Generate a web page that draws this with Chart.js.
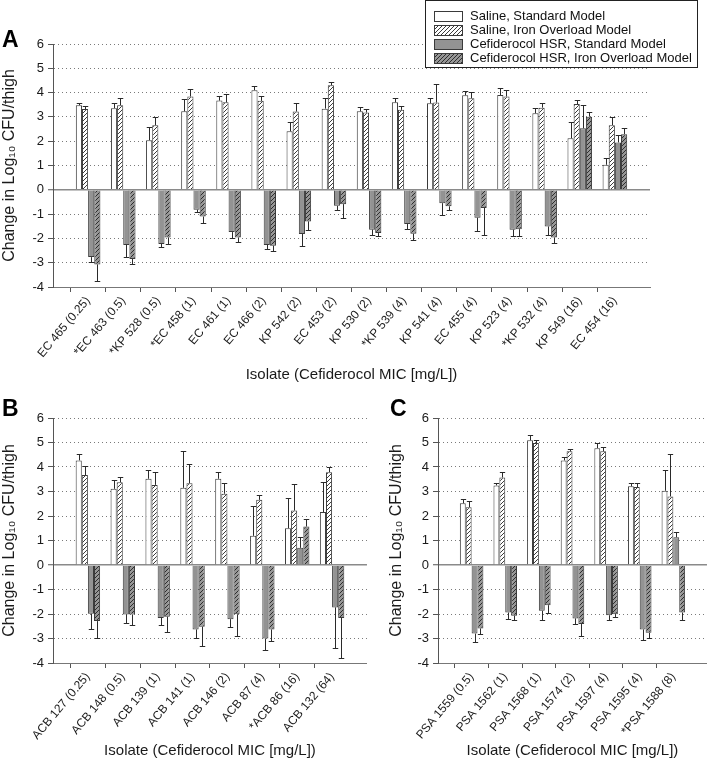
<!DOCTYPE html>
<html><head><meta charset="utf-8">
<script src="https://cdn.jsdelivr.net/npm/chart.js@4.4.1/dist/chart.umd.min.js"></script>
<style>
html,body{margin:0;padding:0;background:#fff;}
#wrap{position:relative;width:720px;height:769px;overflow:hidden;background:#fff;}
canvas{position:absolute;}
</style></head><body>
<div id="wrap">
<canvas id="cA" width="720" height="385" style="left:0;top:0"></canvas>
<canvas id="cB" width="380" height="384" style="left:0;top:385px"></canvas>
<canvas id="cC" width="340" height="384" style="left:380px;top:385px"></canvas>
</div>
<script>
// ---------- DATA ----------
const seriesLabels = ['Saline, Standard Model', 'Saline, Iron Overload Model',
  'Cefiderocol HSR, Standard Model', 'Cefiderocol HSR, Iron Overload Model'];
const yTitle = 'Change in Log\u2081\u2080 CFU/thigh';
const xTitle = 'Isolate (Cefiderocol MIC [mg/L])';

// Panel A
const isolatesA = ['EC 465 (0.25)', '*EC 463 (0.5)', '*KP 528 (0.5)', '*EC 458 (1)', 'EC 461 (1)',
  'EC 466 (2)', 'KP 542 (2)', 'EC 453 (2)', 'KP 530 (2)', '*KP 539 (4)', 'KP 541 (4)',
  'EC 455 (4)', 'KP 523 (4)', '*KP 532 (4)', 'KP 549 (16)', 'EC 454 (16)'];
const salineStdA  = [3.48, 3.36, 2.04, 3.23, 3.67, 4.10, 2.41, 3.34, 3.23, 3.60, 3.56, 3.89, 3.90, 3.15, 2.12, 1.03];
const salineIronA = [3.32, 3.48, 2.66, 3.84, 3.60, 3.66, 3.22, 4.30, 3.18, 3.29, 3.59, 3.77, 3.84, 3.38, 3.53, 2.66];
const cefStdA     = [-2.77, -2.27, -2.23, -0.82, -1.74, -2.27, -1.82, -0.66, -1.64, -1.41, -0.55, -1.15, -1.64, -1.51, 2.53, 1.95];
const cefIronA    = [-3.07, -2.85, -1.96, -1.10, -1.96, -2.30, -1.30, -0.59, -1.78, -1.81, -0.68, -0.75, -1.62, -1.96, 3.01, 2.29];
const salineStdErrA  = [0.11, 0.20, 0.55, 0.52, 0.19, 0.16, 0.38, 0.43, 0.19, 0.17, 0.21, 0.18, 0.28, 0.21, 0.65, 0.27];
const salineIronErrA = [0.12, 0.29, 0.35, 0.30, 0.35, 0.22, 0.34, 0.14, 0.16, 0.16, 0.75, 0.24, 0.28, 0.18, 0.17, 0.33];
const cefStdErrA     = [0.20, 0.51, 0.11, 0.10, 0.26, 0.17, 0.51, 0.19, 0.22, 0.21, 0.48, 0.56, 0.25, 0.37, 0.96, 0.31];
const cefIronErrA    = [0.67, 0.20, 0.25, 0.27, 0.18, 0.21, 0.37, 0.56, 0.11, 0.24, 0.14, 1.10, 0.27, 0.23, 0.21, 0.24];

// Panel B
const isolatesB = ['ACB 127 (0.25)', 'ACB 148 (0.5)', 'ACB 139 (1)', 'ACB 141 (1)', 'ACB 146 (2)',
  'ACB 87 (4)', '*ACB 86 (16)', 'ACB 132 (64)'];
const salineStdB  = [4.27, 3.11, 3.52, 3.15, 3.52, 1.19, 1.50, 2.16];
const salineIronB = [3.67, 3.38, 3.27, 3.34, 2.91, 2.66, 2.22, 3.79];
const cefStdB     = [-1.99, -2.02, -2.16, -2.63, -2.21, -3.00, 0.70, -1.73];
const cefIronB    = [-2.29, -2.02, -2.11, -2.52, -2.01, -2.63, 1.57, -2.16];
const salineStdErrB  = [0.27, 0.34, 0.34, 1.50, 0.27, 1.22, 1.24, 1.21];
const salineIronErrB = [0.38, 0.21, 0.51, 0.77, 0.45, 0.19, 1.08, 0.23];
const cefStdErrB     = [0.64, 0.34, 0.28, 0.34, 0.31, 0.48, 0.43, 1.64];
const cefIronErrB    = [0.68, 0.44, 0.62, 0.77, 0.88, 0.48, 0.30, 1.63];

// Panel C
const isolatesC = ['PSA 1559 (0.5)', 'PSA 1562 (1)', 'PSA 1568 (1)', 'PSA 1574 (2)', 'PSA 1597 (4)',
  'PSA 1595 (4)', '*PSA 1588 (8)'];
const salineStdC  = [2.52, 3.25, 5.09, 4.27, 4.77, 3.21, 3.03];
const salineIronC = [2.36, 3.57, 4.98, 4.64, 4.64, 3.18, 2.80];
const cefStdC     = [-2.80, -1.94, -1.87, -2.18, -2.05, -2.63, 1.13];
const cefIronC    = [-2.59, -2.07, -1.64, -2.41, -2.01, -2.77, -1.94];
const salineStdErrC  = [0.18, 0.09, 0.20, 0.12, 0.21, 0.13, 0.83];
const salineIronErrC = [0.26, 0.22, 0.14, 0.09, 0.18, 0.16, 1.74];
const cefStdErrC     = [0.34, 0.28, 0.38, 0.21, 0.20, 0.44, 0.22];
const cefIronErrC    = [0.21, 0.18, 0.31, 0.48, 0.10, 0.19, 0.31];

const yMin = -4, yMax = 6, yStep = 1;

// ---------- STYLE ----------
const FONT = "'Liberation Sans', Arial, Helvetica, sans-serif";
function hatch(bg, fg) {
  const c = document.createElement('canvas');
  c.width = 4; c.height = 4;
  const g = c.getContext('2d');
  g.fillStyle = bg; g.fillRect(0, 0, 4, 4);
  g.strokeStyle = fg; g.lineWidth = 1;
  g.beginPath();
  g.moveTo(0, 4); g.lineTo(4, 0);
  g.moveTo(-1, 1); g.lineTo(1, -1);
  g.moveTo(3, 5); g.lineTo(5, 3);
  g.stroke();
  return g.createPattern(c, 'repeat');
}
const fills = ['#ffffff', hatch('#ffffff', '#3c3c3c'), '#939393', hatch('#969696', '#2e2e2e')];
const BORDER = '#3a3a3a';

// ---------- PLUGINS ----------
const errorBars = {
  id: 'errorBars',
  afterDatasetsDraw(chart) {
    const ctx = chart.ctx, ys = chart.scales.y;
    ctx.save();
    ctx.strokeStyle = '#2a2a2a'; ctx.lineWidth = 1;
    chart.data.datasets.forEach((ds, d) => {
      const meta = chart.getDatasetMeta(d);
      meta.data.forEach((bar, i) => {
        const v = ds.data[i], e = ds.errors[i];
        if (v == null || e == null) return;
        const end = v >= 0 ? v + e : v - e;
        const x = Math.round(bar.x) + 0.5;
        const y0 = ys.getPixelForValue(v);
        const y1 = Math.round(ys.getPixelForValue(end)) + 0.5;
        const hw = Math.max(2, bar.width * 0.45);
        ctx.beginPath();
        ctx.moveTo(x, y0); ctx.lineTo(x, y1);
        ctx.moveTo(x - hw, y1); ctx.lineTo(x + hw, y1);
        ctx.stroke();
      });
    });
    ctx.restore();
  }
};

const panelDeco = {
  id: 'panelDeco',
  afterDraw(chart, args, opts) {
    const ctx = chart.ctx;
    ctx.save();
    ctx.fillStyle = '#000';
    ctx.font = 'bold 23px ' + FONT;
    ctx.textAlign = 'left'; ctx.textBaseline = 'middle';
    ctx.fillText(opts.letter, opts.lx, opts.ly);
    if (opts.legend) {
      const L = opts.legend;
      ctx.fillStyle = '#fff';
      ctx.fillRect(L.x, L.y, L.w, L.h);
      ctx.strokeStyle = '#222'; ctx.lineWidth = 1;
      ctx.strokeRect(L.x + 0.5, L.y + 0.5, L.w, L.h);
      ctx.font = '13px ' + FONT;
      chart.data.datasets.forEach((ds, i) => {
        const cy = L.y + L.first + i * L.step;
        ctx.fillStyle = ds.backgroundColor;
        ctx.fillRect(L.x + 9, Math.round(cy - 5), 28, 10);
        ctx.strokeStyle = BORDER;
        ctx.strokeRect(L.x + 9.5, Math.round(cy - 5) + 0.5, 28, 10);
        ctx.fillStyle = '#111';
        ctx.fillText(ds.label, L.x + 45, cy);
      });
    }
    ctx.restore();
  }
};

// ---------- BUILD ----------
function makeChart(id, labels, vals, errs, g) {
  const padded = ['', ...labels, ''];
  const pad = a => [null, ...a, null];
  const last = padded.length - 1;
  const datasets = vals.map((v, k) => ({
    label: seriesLabels[k],
    data: pad(v),
    errors: pad(errs[k]),
    backgroundColor: fills[k],
    borderColor: BORDER,
    borderWidth: 1,
    categoryPercentage: 0.7,
    barPercentage: 1.0
  }));
  return new Chart(document.getElementById(id), {
    type: 'bar',
    data: { labels: padded, datasets },
    options: {
      responsive: false,
      animation: false,
      devicePixelRatio: 1,
      layout: { padding: { top: g.top, right: g.right, left: 0, bottom: 0 } },
      plugins: {
        legend: { display: false },
        tooltip: { enabled: false },
        panelDeco: { letter: g.letter, lx: g.lx, ly: g.ly, legend: g.legend }
      },
      scales: {
        x: {
          type: 'category',
          offset: false,
          afterFit: s => { s.height = g.xh; },
          grid: {
            display: true, drawOnChartArea: false, drawTicks: true, tickLength: 5,
            tickColor: c => (c.index === 0 || c.index === last) ? 'rgba(0,0,0,0)' : '#555',
            color: '#555'
          },
          border: { display: true, color: '#777', width: 1 },
          ticks: {
            autoSkip: false, minRotation: 50, maxRotation: 50, padding: 2,
            color: '#1a1a1a', font: { family: FONT, size: 12 }
          },
          title: {
            display: true, text: xTitle, color: '#1a1a1a',
            font: { family: FONT, size: 15 }, padding: { top: 0, bottom: g.xtp }
          }
        },
        y: {
          min: yMin, max: yMax,
          afterFit: s => { s.width = g.yw; },
          grid: {
            color: c => (c.tick && c.tick.value === 0) ? '#8a8a8a' : '#7a7a7a',
            lineWidth: c => (c.tick && c.tick.value === 0) ? 1.5 : 1,
            drawTicks: true, tickLength: 5, tickColor: '#555', tickWidth: 1
          },
          border: {
            display: true, color: '#555', width: 1,
            dash: c => (c.tick && c.tick.value === 0) ? [] : [1, 3]
          },
          ticks: {
            stepSize: yStep, padding: 4, color: '#1a1a1a',
            font: { family: FONT, size: 13 }
          },
          title: {
            display: true, text: yTitle, color: '#1a1a1a',
            font: { family: FONT, size: 16 }, padding: { top: g.ytp, bottom: 0 }
          }
        }
      }
    },
    plugins: [errorBars, panelDeco]
  });
}

makeChart('cA', isolatesA,
  [salineStdA, salineIronA, cefStdA, cefIronA],
  [salineStdErrA, salineIronErrA, cefStdErrA, cefIronErrA],
  { top: 44, right: 70, yw: 53, xh: 98, xtp: 1, ytp: 0, letter: 'A', lx: 2, ly: 41,
    legend: { x: 425, y: 0, w: 272, h: 67, first: 16, step: 14 } });

makeChart('cB', isolatesB,
  [salineStdB, salineIronB, cefStdB, cefIronB],
  [salineStdErrB, salineIronErrB, cefStdErrB, cefIronErrB],
  { top: 33, right: 11, yw: 53, xh: 106, xtp: 9, ytp: 0, letter: 'B', lx: 2, ly: 25 });

makeChart('cC', isolatesC,
  [salineStdC, salineIronC, cefStdC, cefIronC],
  [salineStdErrC, salineIronErrC, cefStdErrC, cefIronErrC],
  { top: 33, right: 5, yw: 58, xh: 106, xtp: 9, ytp: 7, letter: 'C', lx: 10, ly: 25 });
</script>
</body></html>
